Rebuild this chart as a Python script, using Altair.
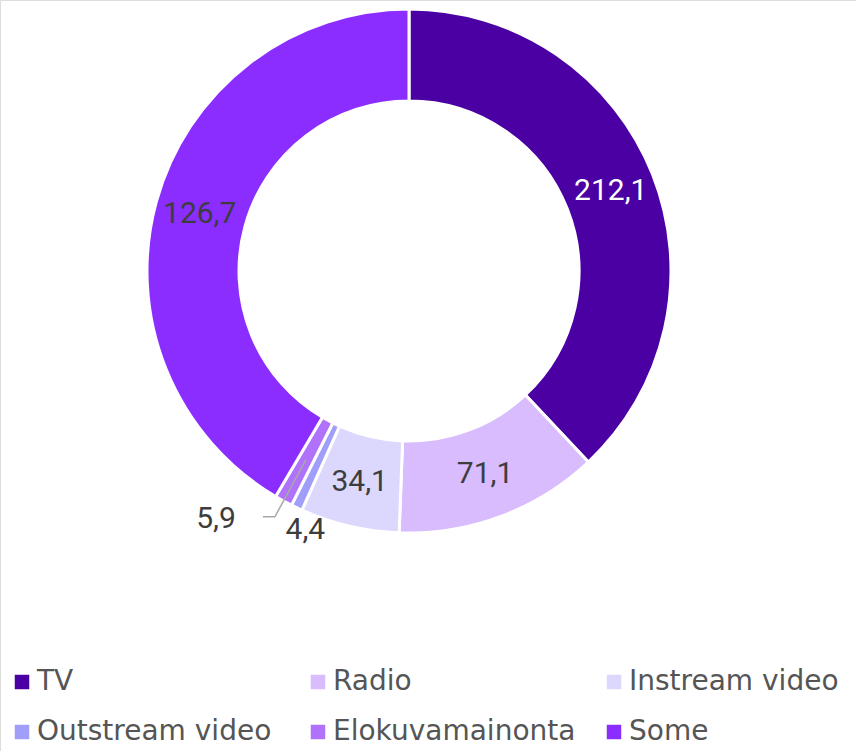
import math
import altair as alt
import pandas as pd

# ---- data ----
categories = ["TV", "Radio", "Instream video", "Outstream video", "Elokuvamainonta", "Some"]
# arc sizes (share of the full circle, %) as drawn in the picture
shares = [38.0, 12.6, 6.1, 0.7, 1.1, 41.5]
# printed value labels
value_labels = ["212,1", "71,1", "34,1", "4,4", "5,9", "126,7"]
colors = ["#4a00a3", "#d8bcfd", "#dcd7fc", "#a09ef8", "#b072fa", "#8b2dff"]

# ---- style constants ----
CX, CY = 409, 271
R_OUT, R_IN = 262, 170
W, H = 856, 751
FONT = "Roboto"
LFONT = "DejaVu Sans"

df = pd.DataFrame({"cat": categories, "share": shares, "label": value_labels,
                   "idx": list(range(len(categories)))})
df["end"] = df["share"].cumsum()
df["start"] = df["end"] - df["share"]
df["mid"] = (df["start"] + df["end"]) / 2
df["txtcol"] = ["white"] + ["#3d3d3d"] * 5

theta_scale = alt.Scale(domain=[0, 100], range=[0, 2 * math.pi])
color_scale = alt.Scale(domain=categories, range=colors)

base = alt.Chart(df)

arcs = base.mark_arc(radius=R_OUT, radius2=R_IN, stroke="white", strokeWidth=3).encode(
    x=alt.value(CX), y=alt.value(CY),
    theta=alt.Theta("start:Q", scale=theta_scale),
    theta2="end:Q",
    color=alt.Color("cat:N", scale=color_scale, sort=categories,
                    legend=alt.Legend(
                        title=None, orient="none", legendX=8, legendY=668, padding=0,
                        direction="horizontal", columns=3, gridAlign="all",
                        symbolType="square", symbolSize=210, symbolStrokeWidth=0,
                        labelFont=LFONT, labelFontSize=28, labelColor="#555555",
                        labelOffset=1, columnPadding=24, rowPadding=22,
                        labelLimit=400)),
)

big = base.transform_filter(alt.FieldOneOfPredicate(field="cat", oneOf=["TV", "Radio", "Instream video", "Some"]))
big_text = big.mark_text(radius=217, font=FONT, fontSize=30, align="center", baseline="middle").encode(
    x=alt.value(CX), y=alt.value(CY),
    theta=alt.Theta("mid:Q", scale=theta_scale),
    text="label:N",
    color=alt.Color("txtcol:N", scale=None),
)

out_text = base.transform_filter(alt.datum.cat == "Outstream video").mark_text(
    radius=279, dx=16, dy=7, font=FONT, fontSize=30, align="center", baseline="middle", color="#3d3d3d"
).encode(
    x=alt.value(CX), y=alt.value(CY),
    theta=alt.Theta("mid:Q", scale=theta_scale),
    text="label:N",
)

elo_text = base.transform_filter(alt.datum.cat == "Elokuvamainonta").mark_text(
    radius=280, dx=-39, dy=2, font=FONT, fontSize=30, align="right", baseline="middle", color="#3d3d3d"
).encode(
    x=alt.value(CX), y=alt.value(CY),
    theta=alt.Theta("mid:Q", scale=theta_scale),
    text="label:N",
)

# leader line for the Elokuvamainonta label, derived from the slice's mid angle
m = df.loc[df["cat"] == "Elokuvamainonta", "mid"].iloc[0] / 100 * 2 * math.pi
pts = []
for i, r in enumerate([215, 280]):
    pts.append({"o": i, "px": CX + r * math.sin(m), "py": CY - r * math.cos(m)})
pts.append({"o": 2, "px": pts[1]["px"] - 12, "py": pts[1]["py"]})
lead = alt.Chart(pd.DataFrame(pts)).mark_line(color="#a8a8a8", strokeWidth=1.5).encode(
    x=alt.X("px:Q", scale=alt.Scale(domain=[0, W], range=[0, W], zero=False, nice=False), axis=None),
    y=alt.Y("py:Q", scale=alt.Scale(domain=[0, H], range=[0, H], zero=False, nice=False), axis=None),
    order="o:Q",
)

chart = alt.layer(arcs, lead, big_text, out_text, elo_text).properties(
    width=W, height=H, padding=0, autosize=alt.AutoSizeParams(type="none")
).configure_view(stroke=None).configure(background="white")

chart.save("out.html", embed_options={"renderer": "svg", "actions": False})
